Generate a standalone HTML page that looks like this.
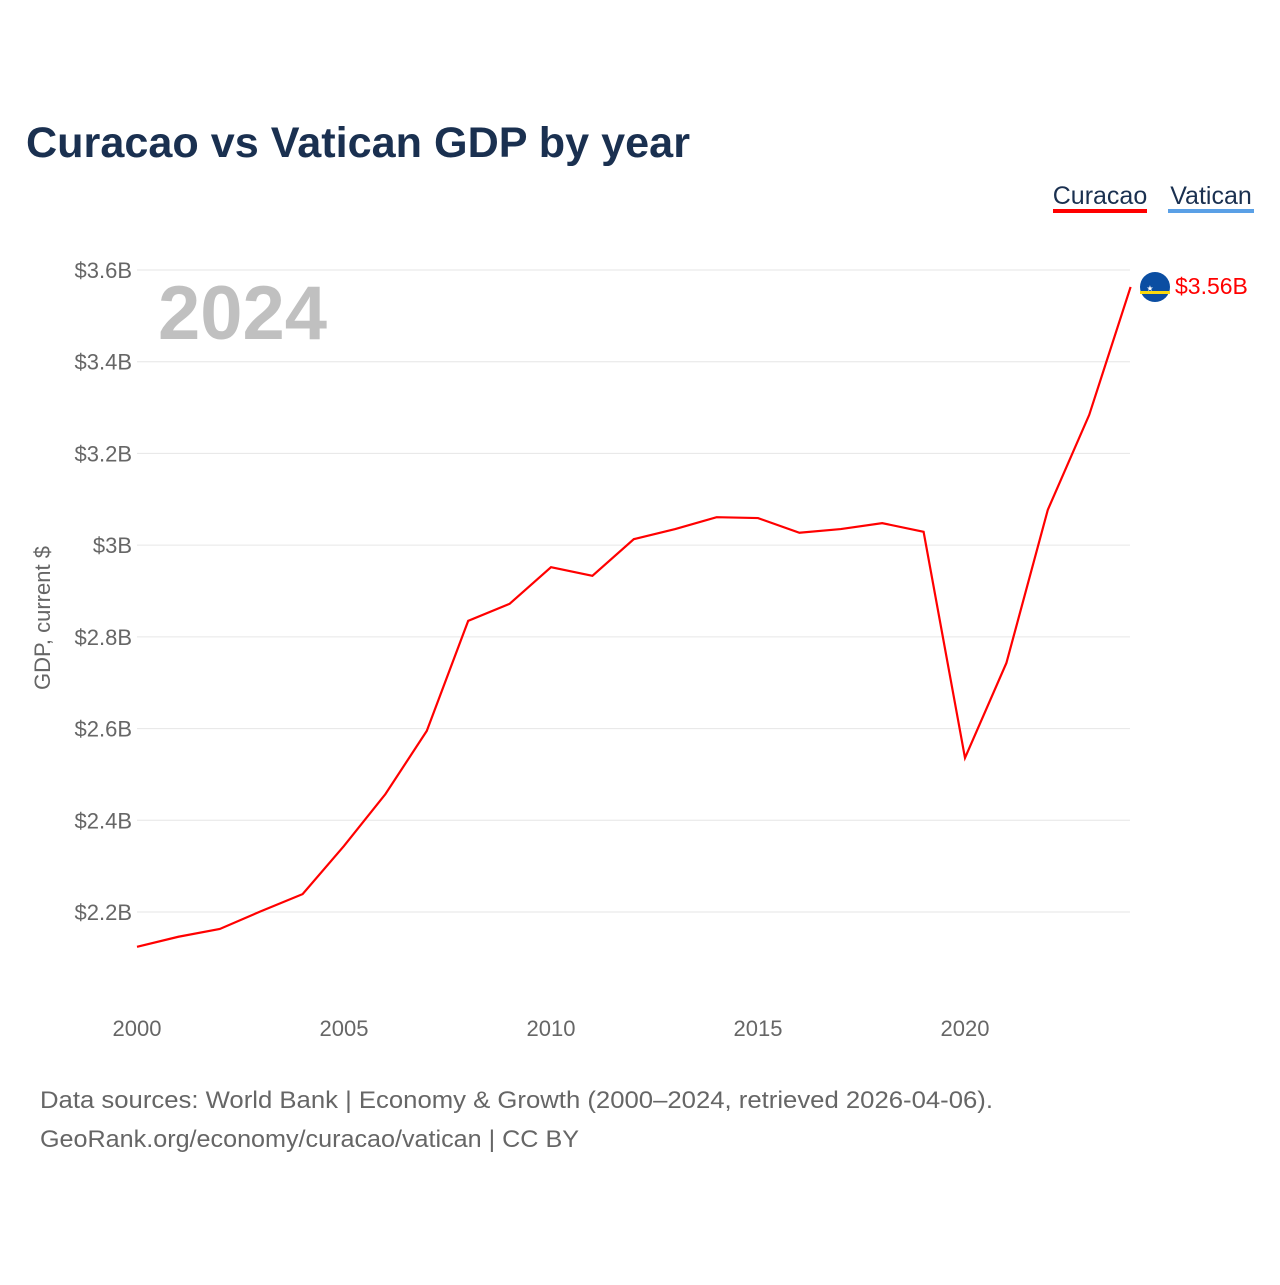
<!DOCTYPE html>
<html><head><meta charset="utf-8"><style>
body{margin:0;background:#fff;font-family:"Liberation Sans",sans-serif;}
svg text{font-family:"Liberation Sans",sans-serif;}
</style></head><body>
<svg id="chart" width="1280" height="1280">
<text x="26" y="157" font-size="43" font-weight="bold" fill="#1a3050" textLength="664" lengthAdjust="spacingAndGlyphs">Curacao vs Vatican GDP by year</text>
<g>
<text x="1100" y="204" font-size="25" fill="#1a3050" text-anchor="middle">Curacao</text>
<rect x="1053" y="209" width="94" height="4" fill="#ff0000"/>
<text x="1211" y="204" font-size="25" fill="#1a3050" text-anchor="middle">Vatican</text>
<rect x="1168" y="209" width="86" height="4" fill="#5aa0e6"/>
</g>
<text x="158" y="339" font-size="76" font-weight="bold" fill="#c0c0c0">2024</text>
<text transform="translate(50,618) rotate(-90)" font-size="22" fill="#666" text-anchor="middle">GDP, current $</text>
<g id="grid"></g><g id="yt"></g><g id="xt"></g>
<path id="line" fill="none" stroke="#ff0000" stroke-width="2.2"/>
<g>
<circle cx="1155" cy="287" r="15" fill="#0b4ea2"/>
<rect x="1140" y="291" width="30" height="3" fill="#f9d90f"/>
<text x="1150" y="291" font-size="8" fill="#fff" text-anchor="middle">★</text>
</g>
<text x="1175" y="294" font-size="23" fill="#ff0000">$3.56B</text>
<text x="40" y="1108" font-size="24" fill="#666" textLength="953" lengthAdjust="spacingAndGlyphs">Data sources: World Bank | Economy &amp; Growth (2000–2024, retrieved 2026-04-06).</text>
<text x="40" y="1147" font-size="24" fill="#666" textLength="539" lengthAdjust="spacingAndGlyphs">GeoRank.org/economy/curacao/vatican | CC BY</text>
</svg>
<script>
const years=[2000,2001,2002,2003,2004,2005,2006,2007,2008,2009,2010,2011,2012,2013,2014,2015,2016,2017,2018,2019,2020,2021,2022,2023,2024];
const curacao=[2.124,2.146,2.163,2.202,2.239,2.344,2.457,2.595,2.835,2.872,2.952,2.933,3.013,3.035,3.061,3.059,3.027,3.035,3.048,3.029,2.536,2.743,3.077,3.284,3.563];
const yTicks=[2.2,2.4,2.6,2.8,3.0,3.2,3.4,3.6];
const yLabels=["$2.2B","$2.4B","$2.6B","$2.8B","$3B","$3.2B","$3.4B","$3.6B"];
const xTicks=[2000,2005,2010,2015,2020];
const ns="http://www.w3.org/2000/svg";
const x=v=>137+(v-2000)*(965-137)/20;
const y=v=>270+(3.6-v)*(912-270)/1.4;
const grid=document.getElementById('grid'),yt=document.getElementById('yt'),xt=document.getElementById('xt');
yTicks.forEach((t,i)=>{
 const l=document.createElementNS(ns,'line');
 l.setAttribute('x1',137);l.setAttribute('x2',1130);l.setAttribute('y1',y(t));l.setAttribute('y2',y(t));
 l.setAttribute('stroke','#e6e6e6');l.setAttribute('stroke-width','1');
 
 
 grid.appendChild(l);
 const tx=document.createElementNS(ns,'text');
 tx.setAttribute('x',132);tx.setAttribute('y',y(t)+8);tx.setAttribute('text-anchor','end');
 tx.setAttribute('font-size','22');tx.setAttribute('fill','#666');tx.textContent=yLabels[i];
 
 
 yt.appendChild(tx);
});
xTicks.forEach(t=>{
 const tx=document.createElementNS(ns,'text');
 tx.setAttribute('x',x(t));tx.setAttribute('y',1036);tx.setAttribute('text-anchor','middle');
 tx.setAttribute('font-size','22');tx.setAttribute('fill','#666');tx.textContent=t;
 
 
 xt.appendChild(tx);
});
document.getElementById('line').setAttribute('d',years.map((yr,i)=>(i?'L':'M')+x(yr)+','+y(curacao[i])).join(''));
</script>
</body></html>
